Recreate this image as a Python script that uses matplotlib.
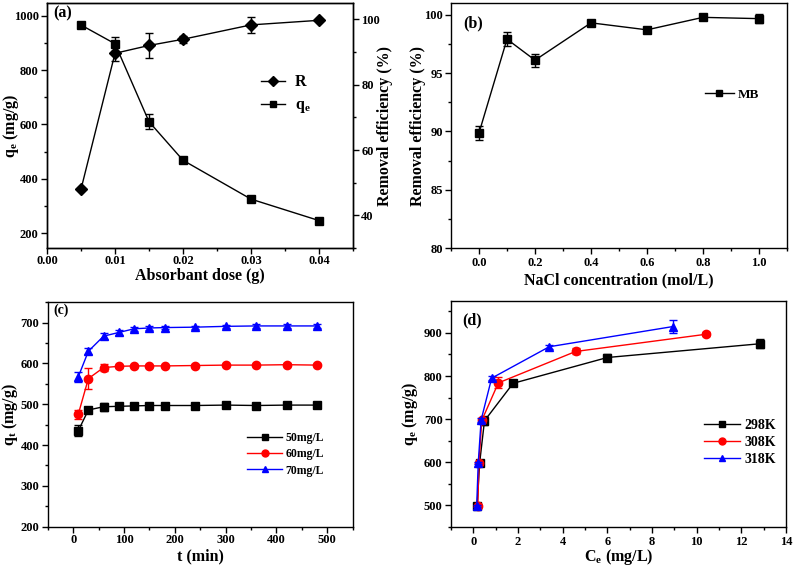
import numpy as np
import matplotlib
matplotlib.use("Agg")
import matplotlib.pyplot as plt
from matplotlib.lines import Line2D
from matplotlib.ticker import AutoMinorLocator, MultipleLocator

plt.rcParams["font.family"] = ["Liberation Serif", "DejaVu Serif"]
plt.rcParams["font.weight"] = "bold"
plt.rcParams["axes.labelweight"] = "bold"
plt.rcParams["mathtext.fontset"] = "custom"
plt.rcParams["mathtext.rm"] = "Liberation Serif:bold"
plt.rcParams["mathtext.it"] = "Liberation Serif:bold"
plt.rcParams["mathtext.bf"] = "Liberation Serif:bold"

# (a) adsorbent dose
dose = [0.005, 0.01, 0.015, 0.02, 0.03, 0.04]
qe_dose = [966, 897, 610, 468, 325, 246]
qe_dose_err = [0, 25, 27, 0, 0, 0]
r_dose = [48.0, 89.6, 92.0, 93.9, 98.3, 99.7]
r_dose_err = [0, 2.5, 3.7, 1.0, 2.4, 0]

# (b) NaCl concentration
nacl = [0.0, 0.1, 0.2, 0.4, 0.6, 0.8, 1.0]
r_nacl = [89.86, 97.9, 96.1, 99.3, 98.7, 99.77, 99.66]
r_nacl_err = [0.6, 0.6, 0.55, 0.2, 0.2, 0.1, 0.4]

# (c) kinetics
t_min = [10, 30, 60, 90, 120, 150, 180, 240, 300, 360, 420, 480]
qt_50 = [435, 486, 494, 495, 496, 497, 497, 497, 498, 497, 498, 498]
qt_50_err = [13, 8, 10, 4, 3, 3, 3, 3, 3, 3, 3, 3]
qt_60 = [475, 563, 590, 593, 594, 594, 594, 595, 596, 596, 597, 596]
qt_60_err = [10, 25, 8, 4, 3, 3, 3, 3, 3, 3, 3, 3]
qt_70 = [567, 630, 667, 676, 685, 687, 688, 689, 691, 692, 692, 692]
qt_70_err = [12, 8, 8, 6, 5, 5, 4, 4, 4, 4, 4, 4]

# (d) isotherms
ce_298 = [0.17, 0.28, 0.5, 1.78, 6.0, 12.85]
qe_298 = [498, 597, 696, 783, 843, 875]
qe_298_err = [3, 3, 10, 3, 7, 10]
ce_308 = [0.2, 0.25, 0.38, 1.12, 4.58, 10.42]
qe_308 = [498, 597, 697, 784, 857, 897]
qe_308_err = [3, 3, 5, 13, 7, 5]
ce_318 = [0.15, 0.22, 0.35, 0.82, 3.4, 8.95]
qe_318 = [498, 598, 698, 795, 868, 915]
qe_318_err = [3, 3, 5, 5, 5, 15]

TICK_FS = 9
LABEL_FS = 11.5


def style(ax, xpad=2.0, ypad=2.0, right=False):
    ax.tick_params(axis="x", which="both", direction="out", pad=xpad, top=False)
    ax.tick_params(axis="y", which="both", direction="out", pad=ypad,
                   right=right, left=not right, labelright=right, labelleft=not right)
    ax.tick_params(which="major", length=4, width=1, labelsize=TICK_FS)
    ax.tick_params(which="minor", length=2.5, width=1)
    for s in ax.spines.values():
        s.set_linewidth(1.0)


def series(ax, x, y, err, color, marker, ms=6):
    ax.errorbar(x, y, yerr=err, fmt="none", ecolor=color, elinewidth=1, capsize=3)
    ax.plot(x, y, color=color, marker=marker, ms=ms, lw=1)


def handle(color, marker, ms=5.5):
    return Line2D([], [], color=color, marker=marker, ms=ms, lw=1)


fig = plt.figure(figsize=(7.94, 5.67), dpi=100)

# ---------- (a)
ax = fig.add_axes([0.0592, 0.5626, 0.3854, 0.4321])
ax2 = ax.twinx()
series(ax, dose, qe_dose, qe_dose_err, "k", "s", ms=5.5)
series(ax2, dose, r_dose, r_dose_err, "k", "D", ms=6)
ax.set_xlim(0, 0.045)
ax.set_ylim(145, 1047)
ax2.set_ylim(30, 105)
ax.set_xticks([0, 0.01, 0.02, 0.03, 0.04])
ax.set_xticklabels(["0.00", "0.01", "0.02", "0.03", "0.04"])
ax.xaxis.set_minor_locator(AutoMinorLocator(2))
ax.yaxis.set_major_locator(MultipleLocator(200))
ax.yaxis.set_minor_locator(AutoMinorLocator(2))
ax2.yaxis.set_major_locator(MultipleLocator(20))
ax2.yaxis.set_minor_locator(AutoMinorLocator(2))
style(ax, xpad=1.0)
style(ax2, right=True)
ax.set_xlabel("Absorbant dose (g)", fontsize=LABEL_FS)
ax.xaxis.set_label_coords(0.5, -0.082)
ax.set_ylabel(r"q$_\mathregular{e}$ (mg/g)", fontsize=LABEL_FS)
ax.yaxis.set_label_coords(-0.085, 0.5)
ax2.set_ylabel("Removal efficiency (%)", fontsize=LABEL_FS)
ax2.yaxis.set_label_coords(1.08, 0.5)
ax.text(0.02, 0.99, "(a)", transform=ax.transAxes, fontsize=LABEL_FS, va="top")
ax.legend([handle("k", "D", 5.5), handle("k", "s", 5)], ["R", r"q$_\mathregular{e}$"],
          loc="center left", bbox_to_anchor=(0.7, 0.625), frameon=False,
          borderpad=0, borderaxespad=0, fontsize=11.5, handlelength=1.5,
          handletextpad=0.6, labelspacing=0.45)

# ---------- (b)
ax = fig.add_axes([0.568, 0.5626, 0.4232, 0.4321])
series(ax, nacl, r_nacl, r_nacl_err, "k", "s", ms=5.5)
ax.set_xlim(-0.1, 1.1)
ax.set_ylim(80, 101)
ax.xaxis.set_major_locator(MultipleLocator(0.2))
ax.xaxis.set_minor_locator(AutoMinorLocator(2))
ax.yaxis.set_major_locator(MultipleLocator(5))
ax.yaxis.set_minor_locator(AutoMinorLocator(2))
style(ax, xpad=2.5)
ax.set_xlabel("NaCl concentration (mol/L)", fontsize=LABEL_FS)
ax.xaxis.set_label_coords(0.5, -0.1)
ax.set_ylabel("Removal efficiency (%)", fontsize=LABEL_FS)
ax.yaxis.set_label_coords(-0.074, 0.5)
ax.text(0.036, 0.95, "(b)", transform=ax.transAxes, fontsize=LABEL_FS, va="top")
ax.legend([handle("k", "s", 4.5)], ["MB"], loc="center left",
          bbox_to_anchor=(0.755, 0.625), frameon=False, borderpad=0,
          borderaxespad=0, fontsize=9.5, handlelength=2.2, handletextpad=0.3)

# ---------- (c)
ax = fig.add_axes([0.0601, 0.0711, 0.3841, 0.3958])
series(ax, t_min, qt_50, qt_50_err, "k", "s")
series(ax, t_min, qt_60, qt_60_err, "r", "o")
series(ax, t_min, qt_70, qt_70_err, "b", "^")
ax.set_xlim(-50, 550)
ax.set_ylim(200, 750)
ax.xaxis.set_major_locator(MultipleLocator(100))
ax.xaxis.set_minor_locator(AutoMinorLocator(2))
ax.yaxis.set_major_locator(MultipleLocator(100))
ax.yaxis.set_minor_locator(AutoMinorLocator(2))
style(ax, xpad=1.5)
ax.set_xlabel("t (min)", fontsize=LABEL_FS)
ax.xaxis.set_label_coords(0.5, -0.095)
ax.set_ylabel(r"q$_\mathregular{t}$ (mg/g)", fontsize=LABEL_FS)
ax.yaxis.set_label_coords(-0.091, 0.5)
ax.text(0.02, 0.995, "(c)", transform=ax.transAxes, fontsize=10, va="top")
ax.legend([handle("k", "s", 5), handle("r", "o", 5), handle("b", "^", 5)],
          ["50mg/L", "60mg/L", "70mg/L"], loc="center left",
          bbox_to_anchor=(0.655, 0.322), frameon=False, borderpad=0,
          borderaxespad=0, fontsize=8.5, handlelength=2.9, handletextpad=0.3,
          labelspacing=0.35)

# ---------- (d)
ax = fig.add_axes([0.568, 0.0711, 0.4219, 0.3986])
series(ax, ce_298, qe_298, qe_298_err, "k", "s")
series(ax, ce_308, qe_308, qe_308_err, "r", "o")
series(ax, ce_318, qe_318, qe_318_err, "b", "^")
ax.set_xlim(-1, 14)
ax.set_ylim(450, 975)
ax.xaxis.set_major_locator(MultipleLocator(2))
ax.xaxis.set_minor_locator(AutoMinorLocator(2))
ax.yaxis.set_major_locator(MultipleLocator(100))
ax.yaxis.set_minor_locator(AutoMinorLocator(2))
style(ax, xpad=3.0)
ax.set_xlabel(r"C$_\mathregular{e}$ (mg/L)", fontsize=LABEL_FS)
ax.xaxis.set_label_coords(0.5, -0.092)
ax.set_ylabel(r"q$_\mathregular{e}$ (mg/g)", fontsize=LABEL_FS)
ax.yaxis.set_label_coords(-0.093, 0.5)
ax.text(0.035, 0.95, "(d)", transform=ax.transAxes, fontsize=LABEL_FS, va="top")
ax.legend([handle("k", "s", 5), handle("r", "o", 5), handle("b", "^", 5)],
          ["298K", "308K", "318K"], loc="center left",
          bbox_to_anchor=(0.755, 0.373), frameon=False, borderpad=0,
          borderaxespad=0, fontsize=10, handlelength=2.6, handletextpad=0.3,
          labelspacing=0.3)

fig.savefig("out.png", dpi=100)
